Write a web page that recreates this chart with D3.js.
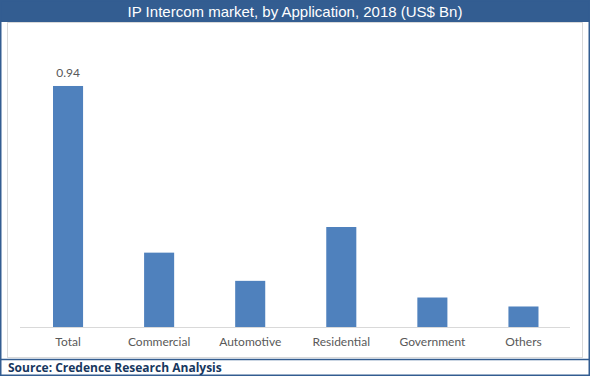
<!DOCTYPE html>
<head>
  <meta charset="utf-8">
  <title>IP Intercom market, by Application, 2018</title>
  <style>
    body { margin: 0; background: #fff; }
    .lbl { font-family: Lato, "Liberation Sans", sans-serif; font-size: 12px; fill: #595959; }
  </style>
</head>
<body>
  <div id="chart"></div>
  <script src="https://d3js.org/d3.v7.min.js"></script>
  <script>
    // data
    let categories = ['Total', 'Commercial', 'Automotive', 'Residential', 'Government', 'Others'];
    let values = [0.94, 0.29, 0.18, 0.39, 0.115, 0.08];
    let shownLabels = ['0.94', '', '', '', '', ''];

    let W = 590, H = 376;
    let svg = d3.select('#chart').append('svg')
      .attr('width', W)
      .attr('height', H);

    // frame + title bar
    svg.append('rect').attr('x', 0).attr('y', 0).attr('width', W).attr('height', H).attr('fill', '#fff');
    svg.append('rect').attr('x', 7.5).attr('y', 22.5).attr('width', 575).attr('height', 335)
      .attr('fill', '#fff').attr('stroke', '#d9d9d9');
    svg.append('rect').attr('x', 0).attr('y', 0).attr('width', W).attr('height', 22).attr('fill', '#335d91');
    svg.append('rect').attr('x', 0.75).attr('y', 0.75).attr('width', W - 1.5).attr('height', H - 1.5)
      .attr('fill', 'none').attr('stroke', '#335d91').attr('stroke-width', 1.5);
    svg.append('line').attr('x1', 0).attr('x2', W).attr('y1', 359.5).attr('y2', 359.5)
      .attr('stroke', '#335d91').attr('stroke-width', 1.5);

    svg.append('text')
      .attr('x', W / 2).attr('y', 16.5)
      .attr('text-anchor', 'middle')
      .attr('font-family', '"Liberation Sans", Arial, sans-serif')
      .attr('font-size', 15)
      .attr('fill', '#fff')
      .text('IP Intercom market, by Application, 2018 (US$ Bn)');

    svg.append('text')
      .attr('x', 8).attr('y', 372)
      .attr('font-family', '"Open Sans", "Liberation Sans", sans-serif')
      .attr('font-weight', 'bold')
      .attr('font-size', 12)
      .attr('fill', '#17375e')
      .text('Source: Credence Research Analysis');

    //x scale
    let x = d3.scaleBand()
      .domain(categories)
      .range([22.5, 569])
      .paddingInner(0.67)
      .paddingOuter(0.335);

    //y scale
    let y = d3.scaleLinear()
      .domain([0, 1])
      .range([327, 70.6]);

    svg.selectAll('.bar')
      .data(values)
      .enter().append('rect')
      .attr('class', 'bar')
      .attr('x', (d, i) => x(categories[i]))
      .attr('width', x.bandwidth())
      .attr('y', d => y(d))
      .attr('height', d => y(0) - y(d))
      .attr('fill', '#4f81bd');

    svg.selectAll('.val')
      .data(values)
      .enter().append('text')
      .attr('class', 'lbl')
      .attr('x', (d, i) => x(categories[i]) + x.bandwidth() / 2)
      .attr('y', d => y(d) - 9)
      .attr('text-anchor', 'middle')
      .attr('fill', '#404040')
      .text((d, i) => shownLabels[i]);

    // x axis
    let xAxis = svg.append('g')
      .attr('transform', `translate(0, ${y(0)})`)
      .call(d3.axisBottom(x).tickSize(0).tickPadding(10).tickSizeOuter(0));
    xAxis.select('.domain').remove();
    xAxis.append('line').attr('x1', 20).attr('x2', 570).attr('y1', 0.5).attr('y2', 0.5)
      .attr('stroke', '#d9d9d9');
    xAxis.selectAll('.tick text').attr('class', 'lbl').attr('font-family', null).attr('font-size', null);
  </script>
</body>
</html>
